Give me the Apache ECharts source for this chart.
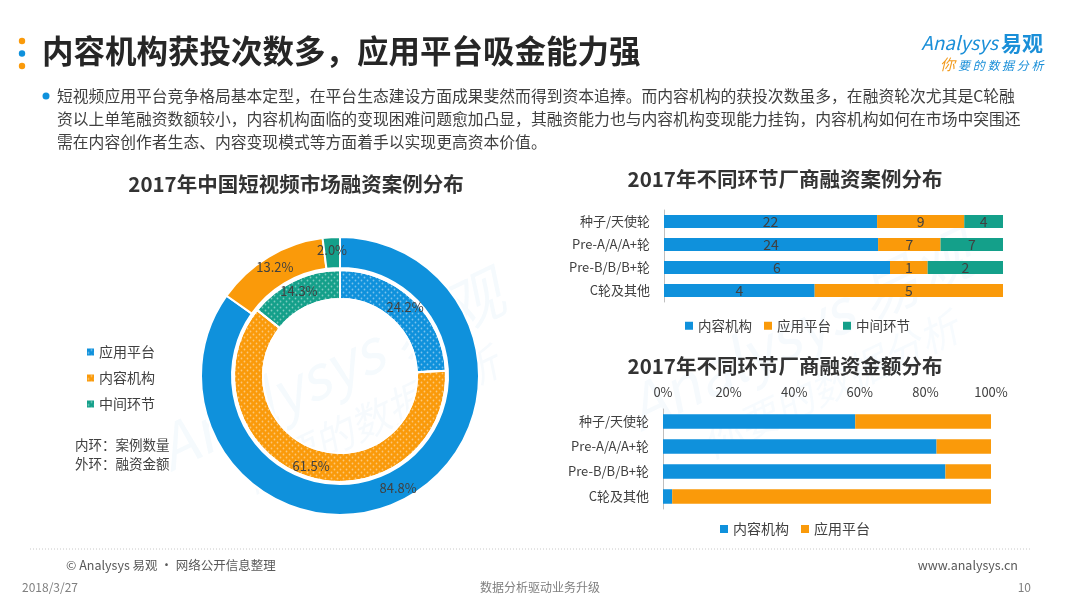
<!DOCTYPE html>
<html><head><meta charset="utf-8">
<script src="https://cdn.jsdelivr.net/npm/echarts@6/dist/echarts.min.js"></script>
<style>html,body{margin:0;padding:0;background:#fff}#c{width:1080px;height:608px}</style>
</head><body><div id="c"></div>
<script>
// ---- data ----
const ringNames = ['应用平台', '内容机构', '中间环节'];
const innerRingCases = [24.2, 61.5, 14.3];   // 内环：案例数量 (%)
const outerRingAmount = [84.8, 13.2, 2.0];   // 外环：融资金额 (%)

const stageCategories = ['种子/天使轮', 'Pre-A/A/A+轮', 'Pre-B/B/B+轮', 'C轮及其他'];
const casesContent = [22, 24, 6, 4];   // 内容机构
const casesApp = [9, 7, 1, 5];         // 应用平台
const casesMid = [4, 7, 2, 0];         // 中间环节

const amountContent = [58.6, 83.4, 86.1, 2.8]; // 内容机构 (%)
const amountApp = [41.4, 16.6, 13.9, 97.2];    // 应用平台 (%)

const pctTicks = [0, 20, 40, 60, 80, 100];

// ---- styles ----
const BLUE = '#0f91dc', ORANGE = '#fa9a0a', TEAL = '#14a08a';
const FONT = '"Noto Sans CJK SC","Noto Sans",sans-serif';
const TXT = '#404040';
const ringColor = {'应用平台': BLUE, '内容机构': ORANGE, '中间环节': TEAL};
const dotDecal = {symbol: 'circle', symbolSize: 0.6, color: 'rgba(255,255,255,0.45)',
  dashArrayX: [[3, 3], [0, 3, 3, 0]], dashArrayY: [3, 0]};

const chart = echarts.init(document.getElementById('c'), null, {renderer: 'canvas'});

function pctOf(arr, i) {
  const tot = casesContent[i] + casesApp[i] + casesMid[i];
  return arr[i] / tot * 100;
}
function stackData(arr) {
  return arr.map((v, i) => ({value: pctOf(arr, i), count: v}));
}
const countLabel = {
  show: true, position: 'inside', color: TXT, fontSize: 14, fontFamily: FONT,
  formatter: p => (p.data.count ? String(p.data.count) : '')
};

const option = {
  animation: false,
  textStyle: {fontFamily: FONT},
  grid: [
    {left: 664, top: 210, width: 339, height: 92},
    {left: 663, top: 409, width: 328, height: 100}
  ],
  xAxis: [
    {gridIndex: 0, type: 'value', min: 0, max: 100, show: false},
    {gridIndex: 1, type: 'value', min: 0, max: 100, interval: 20, position: 'top',
      axisLine: {show: false}, axisTick: {show: false}, splitLine: {show: false},
      axisLabel: {formatter: v => pctTicks.includes(v) ? v + '%' : '', color: TXT, fontSize: 13, margin: 10, fontFamily: FONT}}
  ],
  yAxis: [
    {gridIndex: 0, type: 'category', inverse: true, data: stageCategories,
      axisLine: {lineStyle: {color: '#bfbfbf'}}, axisTick: {show: false},
      axisLabel: {color: TXT, fontSize: 13, margin: 14, fontFamily: FONT}},
    {gridIndex: 1, type: 'category', inverse: true, data: stageCategories,
      axisLine: {lineStyle: {color: '#bfbfbf'}}, axisTick: {show: false},
      axisLabel: {color: TXT, fontSize: 13, margin: 14, fontFamily: FONT}}
  ],
  legend: [
    {orient: 'vertical', left: 82, top: 340, itemWidth: 7, itemHeight: 7, itemGap: 12,
      textStyle: {color: TXT, fontSize: 14, fontFamily: FONT},
      data: ringNames.map(n => ({name: n, icon: 'rect', itemStyle: {color: ringColor[n], decal: dotDecal}}))},
    {left: 680, top: 314, itemWidth: 8, itemHeight: 8, itemGap: 12,
      textStyle: {color: TXT, fontSize: 13.5, fontFamily: FONT},
      data: [{name: '内容机构', icon: 'rect', itemStyle: {color: BLUE}},
             {name: '应用平台', icon: 'rect', itemStyle: {color: ORANGE}},
             {name: '中间环节', icon: 'rect', itemStyle: {color: TEAL}}]},
    {left: 715, top: 517, itemWidth: 8, itemHeight: 8, itemGap: 12,
      textStyle: {color: TXT, fontSize: 14, fontFamily: FONT},
      data: [{name: '内容机构', icon: 'rect', itemStyle: {color: BLUE}},
             {name: '应用平台', icon: 'rect', itemStyle: {color: ORANGE}}]}
  ],
  series: [
    {type: 'pie', name: '外环', center: [340, 376], radius: [108, 139], startAngle: 90, clockwise: true,
      avoidLabelOverlap: false, emphasis: {scale: false},
      itemStyle: {borderColor: '#fff', borderWidth: 2},
      label: {show: true, position: 'inside', color: TXT, fontSize: 13, fontFamily: FONT,
        formatter: p => p.value.toFixed(1) + '%'},
      labelLine: {show: false},
      data: ringNames.map((n, i) => ({name: n, value: outerRingAmount[i], itemStyle: {color: ringColor[n]}}))},
    {type: 'pie', name: '内环', center: [340, 376], radius: [77, 106], startAngle: 90, clockwise: true,
      avoidLabelOverlap: false, emphasis: {scale: false},
      itemStyle: {borderColor: '#fff', borderWidth: 2},
      label: {show: true, position: 'inside', color: TXT, fontSize: 13, fontFamily: FONT,
        formatter: p => p.value.toFixed(1) + '%'},
      labelLine: {show: false},
      data: ringNames.map((n, i) => ({name: n, value: innerRingCases[i], itemStyle: {color: ringColor[n], decal: dotDecal}}))},
    {type: 'bar', name: '内容机构', xAxisIndex: 0, yAxisIndex: 0, stack: 'cases', barCategoryGap: '44%',
      itemStyle: {color: BLUE}, label: countLabel, data: stackData(casesContent)},
    {type: 'bar', name: '应用平台', xAxisIndex: 0, yAxisIndex: 0, stack: 'cases', barCategoryGap: '44%',
      itemStyle: {color: ORANGE}, label: countLabel, data: stackData(casesApp)},
    {type: 'bar', name: '中间环节', xAxisIndex: 0, yAxisIndex: 0, stack: 'cases', barCategoryGap: '44%',
      itemStyle: {color: TEAL}, label: countLabel, data: stackData(casesMid)},
    {type: 'bar', name: '内容机构', xAxisIndex: 1, yAxisIndex: 1, stack: 'amount', barCategoryGap: '42%',
      itemStyle: {color: BLUE}, data: amountContent},
    {type: 'bar', name: '应用平台', xAxisIndex: 1, yAxisIndex: 1, stack: 'amount', barCategoryGap: '42%',
      itemStyle: {color: ORANGE}, data: amountApp}
  ],
  graphic: [
    // watermarks
    {type: 'text', x: 330, y: 370, rotation: 0.45, z: -10, style: {text: 'Analysys 易观', fill: 'rgba(20,140,215,0.045)', font: 'italic 60px ' + FONT, textAlign: 'center', textVerticalAlign: 'middle'}},
    {type: 'text', x: 370, y: 420, rotation: 0.45, z: -10, style: {text: '你要的数据分析', fill: 'rgba(20,140,215,0.04)', font: 'italic 40px ' + FONT, textAlign: 'center', textVerticalAlign: 'middle'}},
    {type: 'text', x: 800, y: 330, rotation: 0.45, z: -10, style: {text: 'Analysys 易观', fill: 'rgba(20,140,215,0.04)', font: 'italic 60px ' + FONT, textAlign: 'center', textVerticalAlign: 'middle'}},
    {type: 'text', x: 830, y: 385, rotation: 0.45, z: -10, style: {text: '你要的数据分析', fill: 'rgba(20,140,215,0.035)', font: 'italic 40px ' + FONT, textAlign: 'center', textVerticalAlign: 'middle'}},
    // title dots
    {type: 'circle', shape: {cx: 22, cy: 41, r: 3.2}, style: {fill: ORANGE}},
    {type: 'circle', shape: {cx: 22, cy: 53.5, r: 3.2}, style: {fill: BLUE}},
    {type: 'circle', shape: {cx: 22, cy: 66, r: 3.2}, style: {fill: ORANGE}},
    {type: 'text', x: 42, y: 51, style: {text: '内容机构获投次数多，应用平台吸金能力强', fill: '#262626', font: 'bold 31.5px ' + FONT, textVerticalAlign: 'middle'}},
    // logo
    {type: 'text', x: 998, y: 43, style: {text: 'Analysys', fill: '#1a8fd8', font: 'italic 19px ' + FONT, textAlign: 'right', textVerticalAlign: 'middle'}},
    {type: 'text', x: 1001, y: 43, style: {text: '易观', fill: '#1a8fd8', font: 'bold 21px ' + FONT, textVerticalAlign: 'middle'}},
    {type: 'text', x: 940, y: 64, style: {text: '你', fill: '#f29a1c', font: 'italic 15px ' + FONT, textVerticalAlign: 'middle'}},
    {type: 'text', x: 958, y: 65, style: {text: '要 的 数 据 分 析', fill: '#1a8fd8', font: 'italic 12px ' + FONT, textVerticalAlign: 'middle'}},
    // paragraph
    {type: 'circle', shape: {cx: 46, cy: 96, r: 3.5}, style: {fill: BLUE}},
    {type: 'text', x: 57, y: 96, style: {text: '短视频应用平台竞争格局基本定型，在平台生态建设方面成果斐然而得到资本追捧。而内容机构的获投次数虽多，在融资轮次尤其是C轮融', fill: TXT, font: '15.8px ' + FONT, textVerticalAlign: 'middle'}},
    {type: 'text', x: 57, y: 119, style: {text: '资以上单笔融资数额较小，内容机构面临的变现困难问题愈加凸显，其融资能力也与内容机构变现能力挂钩，内容机构如何在市场中突围还', fill: TXT, font: '15.8px ' + FONT, textVerticalAlign: 'middle'}},
    {type: 'text', x: 57, y: 142, style: {text: '需在内容创作者生态、内容变现模式等方面着手以实现更高资本价值。', fill: TXT, font: '15.8px ' + FONT, textVerticalAlign: 'middle'}},
    // chart titles
    {type: 'text', x: 296, y: 184, style: {text: '2017年中国短视频市场融资案例分布', fill: '#333', font: 'bold 20.5px ' + FONT, textAlign: 'center', textVerticalAlign: 'middle'}},
    {type: 'text', x: 785, y: 179, style: {text: '2017年不同环节厂商融资案例分布', fill: '#333', font: 'bold 20.5px ' + FONT, textAlign: 'center', textVerticalAlign: 'middle'}},
    {type: 'text', x: 785, y: 366, style: {text: '2017年不同环节厂商融资金额分布', fill: '#333', font: 'bold 20.5px ' + FONT, textAlign: 'center', textVerticalAlign: 'middle'}},
    // ring notes
    {type: 'text', x: 75, y: 445, style: {text: '内环：案例数量', fill: TXT, font: '13.5px ' + FONT, textVerticalAlign: 'middle'}},
    {type: 'text', x: 75, y: 464, style: {text: '外环：融资金额', fill: TXT, font: '13.5px ' + FONT, textVerticalAlign: 'middle'}},
    // footer
    {type: 'line', shape: {x1: 30, y1: 549, x2: 1032, y2: 549}, style: {stroke: '#c8c8c8', lineWidth: 1, lineDash: [1, 2]}},
    {type: 'text', x: 66, y: 565, style: {text: '© Analysys 易观 · 网络公开信息整理', fill: '#595959', font: '12.5px ' + FONT, textVerticalAlign: 'middle'}},
    {type: 'text', x: 1018, y: 565, style: {text: 'www.analysys.cn', fill: '#595959', font: '12.5px ' + FONT, textAlign: 'right', textVerticalAlign: 'middle'}},
    {type: 'text', x: 22, y: 587, style: {text: '2018/3/27', fill: '#7f7f7f', font: '12px ' + FONT, textVerticalAlign: 'middle'}},
    {type: 'text', x: 540, y: 587, style: {text: '数据分析驱动业务升级', fill: '#7f7f7f', font: '12px ' + FONT, textAlign: 'center', textVerticalAlign: 'middle'}},
    {type: 'text', x: 1031, y: 587, style: {text: '10', fill: '#7f7f7f', font: '12px ' + FONT, textAlign: 'right', textVerticalAlign: 'middle'}}
  ]
};
chart.setOption(option);
</script></body></html>
